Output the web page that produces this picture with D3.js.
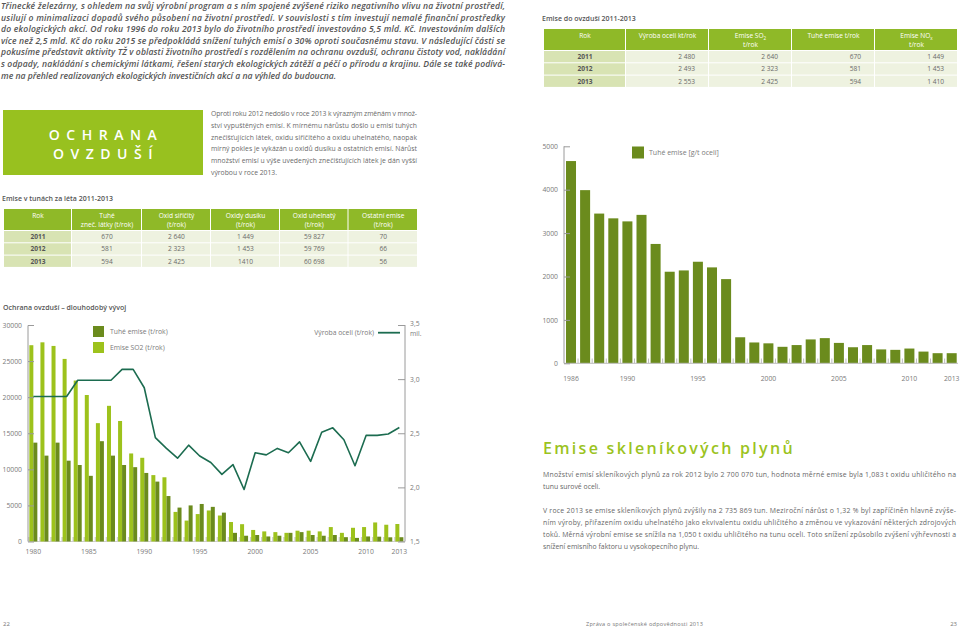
<!DOCTYPE html>
<html><head><meta charset="utf-8">
<script src="https://cdn.jsdelivr.net/npm/d3@7"></script>
<style>
html,body{margin:0;padding:0;background:#fff;}
svg{display:block;font-family:"Open Sans",sans-serif;}
</style></head>
<body><svg id="c" width="960" height="630"></svg>
<script>
// ---------- DATA ----------
const years = [1980,1981,1982,1983,1984,1985,1986,1987,1988,1989,1990,1991,1992,1993,1994,1995,1996,1997,1998,1999,2000,2001,2002,2003,2004,2005,2006,2007,2008,2009,2010,2011,2012,2013];
const so2Values = [27200,27600,27100,25300,22300,20300,16400,18800,16700,12200,11600,9200,8900,4100,2900,3800,4300,3600,2700,2400,1600,1400,1300,1200,1500,1500,1400,2000,1200,1900,2000,2640,2323,2425];
const tuheValues = [13700,11900,13700,11200,10600,9100,13900,11900,10600,10300,9500,8300,6300,4700,5000,5200,4800,4000,1200,800,900,700,800,1200,1300,900,800,900,600,500,700,670,581,594];
const steelValues = [2.84,2.84,2.84,2.84,2.99,2.99,2.99,2.99,3.09,3.09,2.92,2.46,2.36,2.27,2.39,2.29,2.23,2.12,2.21,1.98,2.32,2.30,2.36,2.32,2.42,2.24,2.51,2.55,2.44,2.20,2.48,2.480,2.493,2.553];
const leftTicks = [0,5000,10000,15000,20000,25000,30000];
const rightTicks = [1.5,2.0,2.5,3.0,3.5];
const rightTickLabels = ["1,5","2,0","2,5","3,0","3,5"];
const leftXLabels = [1980,1985,1990,1995,2000,2005,2010,2013];

const specYears = [1986,1987,1988,1989,1990,1991,1992,1993,1994,1995,1996,1997,1998,1999,2000,2001,2002,2003,2004,2005,2006,2007,2008,2009,2010,2011,2012,2013];
const specValues = [4660,3990,3450,3340,3270,3420,2750,2110,2140,2340,2210,1940,600,480,460,380,420,550,580,470,370,420,320,310,340,270,233,233];
const specTicks = [0,1000,2000,3000,4000,5000];
const specXLabels = [1986,1990,1995,2000,2005,2010,2013];

const topTableHeader = ["Rok","Výroba oceli kt/rok","Emise SO|2|t/rok","Tuhé emise t/rok","Emise NO|x|t/rok"];
const topTableRows = [["2011","2 480","2 640","670","1 449"],["2012","2 493","2 323","581","1 453"],["2013","2 553","2 425","594","1 410"]];
const leftTableHeader = [["Rok"],["Tuhé","zneč. látky (t/rok)"],["Oxid siřičitý","(t/rok)"],["Oxidy dusíku","(t/rok)"],["Oxid uhelnatý","(t/rok)"],["Ostatní emise","(t/rok)"]];
const leftTableRows = [["2011","670","2 640","1 449","59 827","70"],["2012","581","2 323","1 453","59 769","66"],["2013","594","2 425","1410","60 698","56"]];

const introLines = [
"Třinecké železárny, s ohledem na svůj výrobní program a s ním spojené zvýšené riziko negativního vlivu na životní prostředí,",
"usilují o minimalizaci dopadů svého působení na životní prostředí. V souvislosti s tím investují nemalé finanční prostředky",
"do ekologických akcí. Od roku 1996 do roku 2013 bylo do životního prostředí investováno 5,5 mld. Kč. Investováním dalších",
"více než 2,5 mld. Kč do roku 2015 se předpokládá snížení tuhých emisí o 30% oproti současnému stavu. V následující části se",
"pokusíme představit aktivity TŽ v oblasti životního prostředí s rozdělením na ochranu ovzduší, ochranu čistoty vod, nakládání",
"s odpady, nakládání s chemickými látkami, řešení starých ekologických zátěží a péčí o přírodu a krajinu. Dále se také podívá-",
"me na přehled realizovaných ekologických investičních akcí a na výhled do budoucna."];
const ochranaLines = [
"Oproti roku 2012 nedošlo v roce 2013 k výrazným změnám v množ-",
"ství vypuštěných emisí. K mírnému nárůstu došlo u emisí tuhých",
"znečišťujících látek, oxidu siřičitého a oxidu uhelnatého, naopak",
"mírný pokles je vykázán u oxidů dusíku a ostatních emisí. Nárůst",
"množství emisí u výše uvedených znečišťujících látek je dán vyšší",
"výrobou v roce 2013."];
const ghgLines1 = [
"Množství emisí skleníkových plynů za rok 2012 bylo 2 700 070 tun, hodnota měrné emise byla 1,083 t oxidu uhličitého na",
"tunu surové oceli."];
const ghgLines2 = [
"V roce 2013 se emise skleníkových plynů zvýšily na 2 735 869 tun. Meziroční nárůst o 1,32 % byl zapříčiněn hlavně zvýše-",
"ním výroby, přiřazením oxidu uhelnatého jako ekvivalentu oxidu uhličitého a změnou ve vykazování některých zdrojových",
"toků. Měrná výrobní emise se snížila na 1,050 t oxidu uhličitého na tunu oceli. Toto snížení způsobilo zvýšení výhřevnosti a",
"snížení emisního faktoru u vysokopecního plynu."];

// ---------- STYLE ----------
const C = {light:"#9dc21c", dark:"#6b8b1d", line:"#1c6c50", banner:"#98c11f", head:"#8fb928",
  yearCell:"#d8e3b3", cell:"#eef2e0", text:"#5e5e5e", axis:"#9a9a9a", label:"#7a7a7a"};
const svg = d3.select("#c");

function para(lines, x, y0, lh, width, opt){
  const g = svg.append("g");
  lines.forEach((t,i)=>{
    const tx = g.append("text").attr("x",x).attr("y",y0+i*lh).text(t)
      .attr("font-size",opt.size).attr("fill",opt.color||C.text)
      .attr("font-style",opt.italic?"italic":"normal").attr("font-weight",opt.weight||400);
    if(i<lines.length-1 || opt.justifyLast){ tx.attr("textLength",width).attr("lengthAdjust","spacing"); }
  });
}

// ---------- TEXT BLOCKS ----------
para(introLines, 1, 9, 11.6, 504, {size:8.6, italic:true, weight:600, color:"#555"});

svg.append("rect").attr("x",3).attr("y",110).attr("width",200).attr("height",65).attr("fill",C.banner);
svg.append("text").attr("x",106).attr("y",140).attr("text-anchor","middle").attr("fill","#fff")
  .attr("font-size",14).attr("letter-spacing",6.5).attr("font-weight",600).text("OCHRANA");
svg.append("text").attr("x",106).attr("y",159).attr("text-anchor","middle").attr("fill","#fff")
  .attr("font-size",14).attr("letter-spacing",6.5).attr("font-weight",600).text("OVZDUŠÍ");
para(ochranaLines, 211, 116, 11.8, 206, {size:6.8, color:"#6a6a6a"});

// ---------- TABLES ----------
function table(x, y, title, colX, headerH, rowH, headers, rows, valAlign){
  svg.append("text").attr("x",x-2).attr("y",y-8).attr("font-size",7).attr("font-weight",600)
    .attr("fill","#555").text(title);
  const g = svg.append("g");
  const nC = colX.length-1;
  for(let c=0;c<nC;c++){
    g.append("rect").attr("x",colX[c]).attr("y",y).attr("width",colX[c+1]-colX[c]-1).attr("height",headerH).attr("fill",C.head);
    const h = headers[c];
    const cx = (colX[c]+colX[c+1])/2;
    const lines = Array.isArray(h)?h:(h.includes("|")?null:[h]);
    if(lines){
      lines.forEach((t,i)=>{
        g.append("text").attr("x",cx).attr("y",y+ (lines.length===1?9:9+i*9)).attr("text-anchor","middle")
          .attr("fill","#fff").attr("font-size",6.6).text(t);
      });
    } else {
      const [a,sub,b] = h.split("|");
      const t = g.append("text").attr("x",cx).attr("y",y+9).attr("text-anchor","middle").attr("fill","#fff").attr("font-size",6.6);
      t.append("tspan").text(a);
      t.append("tspan").attr("font-size",4.5).attr("dy",2).text(sub);
      g.append("text").attr("x",cx).attr("y",y+18).attr("text-anchor","middle").attr("fill","#fff").attr("font-size",6.6).text(b);
    }
    rows.forEach((r,ri)=>{
      const ry = y+headerH+1+ri*(rowH+1);
      g.append("rect").attr("x",colX[c]).attr("y",ry).attr("width",colX[c+1]-colX[c]-1).attr("height",rowH)
        .attr("fill",c===0?C.yearCell:C.cell);
      const right = valAlign==="right" && c>0;
      g.append("text").attr("x", right? colX[c+1]-14 : cx).attr("y",ry+rowH/2+2.5)
        .attr("text-anchor", right?"end":"middle").attr("font-size",6.6)
        .attr("font-weight",c===0?700:400).attr("fill",c===0?"#555":"#6a6a6a").text(r[c]);
    });
  }
}
table(544, 29, "Emise do ovzduší 2011-2013", [544,626,709,792,875,958], 21, 11.3, topTableHeader, topTableRows, "right");
table(4, 209, "Emise v tunách za léta 2011-2013", [4,72,142,211,280,348.5,418], 21, 11.3, leftTableHeader, leftTableRows, "center");

svg.append("text").attr("x",3).attr("y",310).attr("font-size",7).attr("font-weight",600).attr("fill","#555")
  .text("Ochrana ovzduší – dlouhodobý vývoj");

// ---------- LEFT CHART ----------
const lx = d3.scaleBand().domain(years).range([27.8, 404.9]).padding(0);
const ly = d3.scaleLinear().domain([0,30000]).range([541.5,325]);
const ry = d3.scaleLinear().domain([1.5,3.5]).range([541.5,325]);
const lc = svg.append("g");
lc.append("line").attr("x1",28).attr("x2",405).attr("y1",541.5).attr("y2",541.5).attr("stroke","#cfcfcf");
years.forEach((yr,i)=>{
  const cx = lx(yr)+lx.bandwidth()/2;
  lc.append("rect").attr("x",lx(yr)+0.3).attr("y",537).attr("width",1.6).attr("height",4.5).attr("fill","#cfcfcf");
  lc.append("rect").attr("x",cx-4).attr("width",4).attr("y",ly(so2Values[i])).attr("height",ly(0)-ly(so2Values[i])).attr("fill",C.light);
  lc.append("rect").attr("x",cx).attr("width",4).attr("y",ly(tuheValues[i])).attr("height",ly(0)-ly(tuheValues[i])).attr("fill",C.dark);
});
const la = lc.append("g").attr("transform","translate(28,0)")
  .call(d3.axisLeft(ly).tickValues(leftTicks).tickSize(-6).tickPadding(6).tickFormat(d3.format("d")));
la.select(".domain").attr("stroke",C.axis).attr("d","M0,325.5V541.5");
la.selectAll(".tick line").attr("stroke",C.axis);
la.selectAll("text").attr("font-size",6.8).attr("fill",C.label).attr("font-family","Open Sans");
const ra = lc.append("g").attr("transform","translate(405,0)")
  .call(d3.axisRight(ry).tickValues(rightTicks).tickSize(-7).tickPadding(5).tickFormat((d,i)=>rightTickLabels[i]));
ra.select(".domain").attr("stroke",C.axis).attr("d","M0,325V541.5");
ra.selectAll(".tick line").attr("stroke",C.axis);
ra.selectAll("text").attr("font-size",6.8).attr("fill",C.label).attr("font-family","Open Sans");
ra.selectAll(".tick").filter(d=>d===3.5).select("text").attr("dy","0");
lc.append("text").attr("x",410).attr("y",336).attr("font-size",6.8).attr("fill",C.label).text("mil.");
lc.append("path").datum(steelValues)
  .attr("d", d3.line().x((d,i)=>lx(years[i])+lx.bandwidth()/2).y(d=>ry(d)))
  .attr("fill","none").attr("stroke",C.line).attr("stroke-width",1.6).attr("stroke-linejoin","round");
leftXLabels.forEach(yr=>{
  lc.append("text").attr("x",lx(yr)+lx.bandwidth()/2).attr("y",554).attr("text-anchor","middle")
    .attr("font-size",6.8).attr("fill",C.label).text(yr);
});
// legend
lc.append("rect").attr("x",93).attr("y",326).attr("width",11).attr("height",11).attr("fill",C.dark);
lc.append("text").attr("x",110).attr("y",334).attr("font-size",6.8).attr("fill",C.label).text("Tuhé emise (t/rok)");
lc.append("rect").attr("x",93).attr("y",342).attr("width",11).attr("height",11).attr("fill",C.light);
lc.append("text").attr("x",110).attr("y",350).attr("font-size",6.8).attr("fill",C.label).text("Emise SO2 (t/rok)");
lc.append("text").attr("x",374).attr("y",335).attr("text-anchor","end").attr("font-size",6.8).attr("fill",C.label).text("Výroba oceli (t/rok)");
lc.append("line").attr("x1",378).attr("x2",400).attr("y1",332.7).attr("y2",332.7).attr("stroke",C.line).attr("stroke-width",1.8);

// ---------- RIGHT CHART ----------
const sx = d3.scaleBand().domain(specYears).range([564,958.7]).paddingInner(0.29).paddingOuter(0.142);
const sy = d3.scaleLinear().domain([0,5000]).range([363.3,146.3]);
const rc = svg.append("g");
rc.selectAll("rect.b").data(specValues).join("rect").attr("class","b")
  .attr("x",(d,i)=>sx(specYears[i])).attr("width",sx.bandwidth())
  .attr("y",d=>sy(d)).attr("height",d=>sy(0)-sy(d)).attr("fill",C.dark);
rc.append("line").attr("x1",564).attr("x2",958).attr("y1",363.3).attr("y2",363.3).attr("stroke","#bdbdbd");
specYears.forEach(yr=>{
  const bx = sx(yr)+sx.bandwidth()+ (sx.step()-sx.bandwidth())/2;
  if(yr<2013) rc.append("line").attr("x1",bx).attr("x2",bx).attr("y1",363.3).attr("y2",358.5).attr("stroke","#bdbdbd");
});
const sa = rc.append("g").attr("transform","translate(564,0)")
  .call(d3.axisLeft(sy).tickValues(specTicks).tickSize(-6).tickPadding(6).tickFormat(d3.format("d")));
sa.select(".domain").attr("stroke",C.axis).attr("d","M0,146.3V363.3");
sa.selectAll(".tick line").attr("stroke",C.axis);
sa.selectAll("text").attr("font-size",6.8).attr("fill",C.label).attr("font-family","Open Sans");
specXLabels.forEach(yr=>{
  rc.append("text").attr("x",sx(yr)+sx.bandwidth()/2).attr("y",381).attr("text-anchor","middle")
    .attr("font-size",6.8).attr("fill",C.label).text(yr);
});
rc.append("rect").attr("x",632).attr("y",146.5).attr("width",12).attr("height",12).attr("fill",C.dark);
rc.append("text").attr("x",649).attr("y",155).attr("font-size",7).attr("fill",C.label).text("Tuhé emise [g/t oceli]");

// ---------- GHG TEXT ----------
svg.append("text").attr("x",543).attr("y",454).attr("font-size",16).attr("letter-spacing",2.3)
  .attr("font-weight",600).attr("fill","#9bc31e").text("Emise skleníkových plynů");
para(ghgLines1, 543, 477, 12, 413, {size:6.9, color:"#666"});
para(ghgLines2, 543, 513, 12, 413, {size:6.9, color:"#666"});

// ---------- FOOTER ----------
svg.append("text").attr("x",3).attr("y",626).attr("font-size",6).attr("fill","#777").text("22");
svg.append("text").attr("x",586).attr("y",626).attr("font-size",5.6).attr("letter-spacing",0.25).attr("fill","#777").text("Zpráva o společenské odpovědnosti 2013");
svg.append("text").attr("x",957).attr("y",626).attr("text-anchor","end").attr("font-size",6).attr("fill","#777").text("23");
</script></body></html>
